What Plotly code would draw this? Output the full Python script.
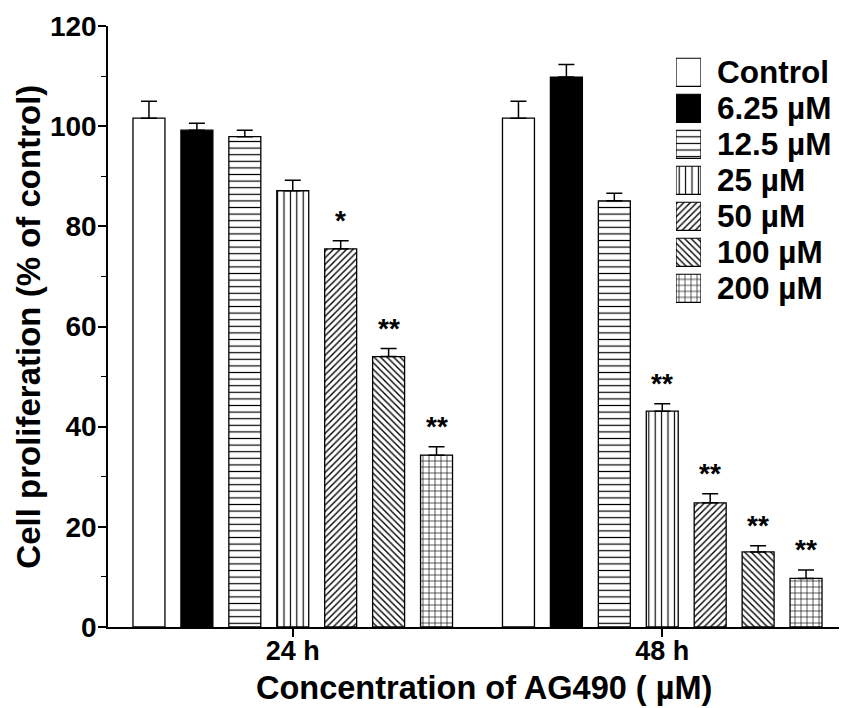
import plotly.graph_objects as go

# ---------------- data ----------------
groups = ["24 h", "48 h"]
series_names = ["Control", "6.25 µM", "12.5 µM", "25 µM", "50 µM", "100 µM", "200 µM"]

control = [101.6, 101.6]
conc_6_25 = [99.2, 109.8]
conc_12_5 = [97.9, 85.1]
conc_25 = [87.1, 43.1]
conc_50 = [75.5, 24.8]
conc_100 = [54.0, 15.0]
conc_200 = [34.3, 9.7]

err_control = [3.4, 3.4]
err_6_25 = [1.4, 2.5]
err_12_5 = [1.3, 1.5]
err_25 = [2.1, 1.5]
err_50 = [1.6, 1.8]
err_100 = [1.6, 1.2]
err_200 = [1.7, 1.7]

sig_control = ["", ""]
sig_6_25 = ["", ""]
sig_12_5 = ["", ""]
sig_25 = ["", "**"]
sig_50 = ["*", "**"]
sig_100 = ["**", "**"]
sig_200 = ["**", "**"]

y_ticks = [0, 20, 40, 60, 80, 100, 120]

values = [control, conc_6_25, conc_12_5, conc_25, conc_50, conc_100, conc_200]
errors = [err_control, err_6_25, err_12_5, err_25, err_50, err_100, err_200]
sigs = [sig_control, sig_6_25, sig_12_5, sig_25, sig_50, sig_100, sig_200]

# ---------------- styles ----------------
FONT = "Liberation Sans, Arial, sans-serif"
BARGAP = 0.092
BARGROUPGAP = 0.333
styles = [
    dict(color="white", shape="", size=8, solidity=0.2),
    dict(color="black", shape="", size=8, solidity=0.2),
    dict(color="white", shape="-", size=6.6, solidity=0.18),
    dict(color="white", shape="|", size=6.4, solidity=0.18),
    dict(color="white", shape="/", size=4.6, solidity=0.3),
    dict(color="white", shape="\\", size=4.6, solidity=0.3),
    dict(color="white", shape="+", size=6.0, solidity=0.2),
]


def bar_marker(st, lw):
    return dict(
        color=st["color"],
        line=dict(color="black", width=lw),
        pattern=dict(shape=st["shape"], size=st["size"], solidity=st["solidity"],
                     fgcolor="black", bgcolor=st["color"], fillmode="replace"),
    )


fig = go.Figure()

for name, vals, errs, st in zip(series_names, values, errors, styles):
    fig.add_trace(go.Bar(
        x=groups, y=vals, name=name, offsetgroup=name, showlegend=False,
        marker=bar_marker(st, 1.3),
        error_y=dict(type="data", array=errs, arrayminus=[0] * len(errs), symmetric=False,
                     color="black", thickness=1.5, width=8),
    ))

# significance stars
n = len(series_names)
slot = (1 - BARGAP) / n
annotations = []
for i, (vals, errs, sg) in enumerate(zip(values, errors, sigs)):
    for gi in range(len(groups)):
        if sg[gi]:
            annotations.append(dict(
                x=gi + (i - (n - 1) / 2) * slot, y=vals[gi] + errs[gi], xref="x", yref="y",
                text=sg[gi], showarrow=False, yanchor="bottom", yshift=3,
                font=dict(family=FONT, size=28, color="black", weight="bold"),
            ))

# custom legend: one swatch bar per series on a small overlay axis pair
for i, (name, st) in enumerate(zip(series_names, styles)):
    fig.add_trace(go.Bar(
        x=[1], y=[i], orientation="h", xaxis="x2", yaxis="y2", showlegend=False,
        offsetgroup="legend", width=[0.78], hoverinfo="skip",
        marker=bar_marker(st, 1.2),
    ))
    annotations.append(dict(
        x=1, y=i, xref="x2 domain", yref="y2", xanchor="left", yanchor="middle",
        xshift=14, text=name, showarrow=False,
        font=dict(family=FONT, size=31.5, color="black", weight="bold"),
    ))

# axis titles as annotations (fixed plot area)
annotations.append(dict(
    x=0.509, y=-0.102, xref="paper", yref="paper", xanchor="center", yanchor="middle",
    text="Concentration of AG490 ( µM)", showarrow=False,
    font=dict(family=FONT, size=32.5, color="black", weight="bold"),
))
annotations.append(dict(
    x=-0.108, y=0.5, xref="paper", yref="paper", xanchor="center", yanchor="middle",
    textangle=-90, text="Cell proliferation (% of control)", showarrow=False,
    font=dict(family=FONT, size=33, color="black", weight="bold"),
))

# page body has an 8px default margin, so the figure is drawn 8px smaller
fig.update_layout(
    width=839, height=700,
    margin=dict(l=100, r=0, t=18, b=81),
    paper_bgcolor="white", plot_bgcolor="white",
    barmode="group", bargap=BARGAP, bargroupgap=BARGROUPGAP,
    showlegend=False,
    annotations=annotations,
    font=dict(family=FONT, color="black"),
    xaxis=dict(
        type="category", range=[-0.5, 1.5], showline=True, linecolor="black", linewidth=1.5,
        ticks="outside", ticklen=8, tickwidth=1.5, tickcolor="black", ticklabelstandoff=-9,
        tickfont=dict(family=FONT, size=27, weight="bold"),
        showgrid=False, zeroline=False, automargin=False,
    ),
    yaxis=dict(
        range=[0, 120], tickvals=y_ticks, showline=True, linecolor="black", linewidth=1.5,
        ticks="outside", ticklen=8, tickwidth=1.5, tickcolor="black", ticklabelstandoff=-4,
        minor=dict(dtick=10, ticks="outside", ticklen=5, tickwidth=1.2, tickcolor="black"),
        tickfont=dict(family=FONT, size=28, weight="bold"),
        showgrid=False, zeroline=False, automargin=False,
    ),
    xaxis2=dict(domain=[0.7686, 0.8024], range=[0, 1], anchor="y2", visible=False, fixedrange=True),
    yaxis2=dict(domain=[0.5336, 0.9529], range=[n - 0.5, -0.5], anchor="x2", visible=False,
                fixedrange=True),
)

fig.write_html("out.html")
